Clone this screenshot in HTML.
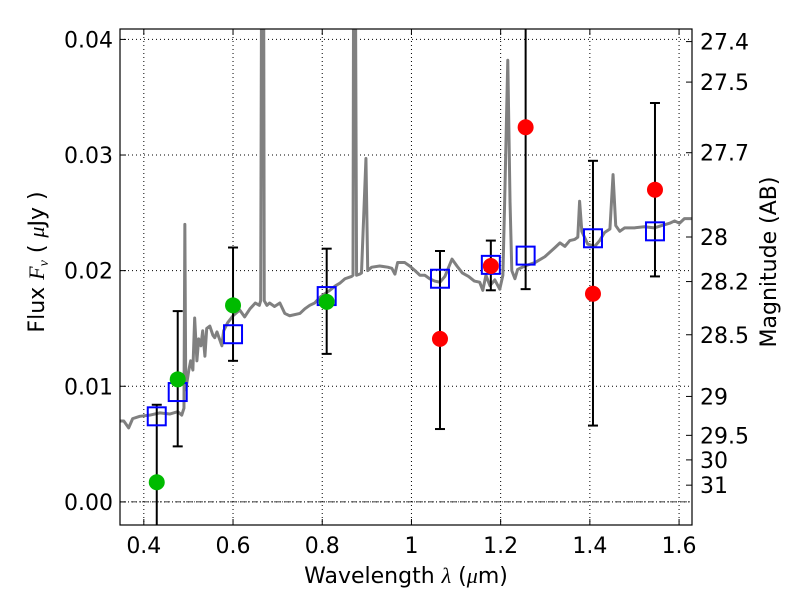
<!DOCTYPE html>
<html><head><meta charset="utf-8"><style>
body{margin:0;background:#fff}
svg text{font-family:"DejaVu Sans","Liberation Sans",sans-serif;fill:#000}
</style></head><body>
<svg id="chart" width="800" height="600" viewBox="0 0 800 600" xmlns="http://www.w3.org/2000/svg"></svg>
<script>
const specLam=[0.346,0.355,0.366,0.375,0.391,0.413,0.436,0.458,0.476,0.485,0.490,0.492,0.494,0.501,0.505,0.510,0.514,0.519,0.523,0.528,0.532,0.537,0.541,0.548,0.555,0.559,0.564,0.575,0.579,0.588,0.600,0.615,0.626,0.638,0.650,0.659,0.662,0.665,0.668,0.670,0.676,0.682,0.693,0.705,0.716,0.727,0.750,0.761,0.772,0.783,0.795,0.806,0.817,0.830,0.839,0.851,0.866,0.869,0.871,0.873,0.877,0.884,0.888,0.898,0.902,0.911,0.929,0.947,0.956,0.963,0.969,0.985,0.996,1.008,1.019,1.030,1.041,1.052,1.064,1.075,1.091,1.102,1.114,1.128,1.141,1.153,1.160,1.167,1.176,1.187,1.198,1.205,1.209,1.216,1.221,1.225,1.232,1.238,1.254,1.277,1.299,1.322,1.333,1.344,1.355,1.366,1.373,1.377,1.382,1.395,1.411,1.422,1.433,1.445,1.452,1.458,1.467,1.478,1.500,1.522,1.545,1.561,1.579,1.590,1.601,1.612,1.628];
const specFlux=[0.0070,0.0070,0.0064,0.0072,0.0074,0.0075,0.0077,0.0076,0.0078,0.0075,0.0081,0.0240,0.0097,0.0114,0.0122,0.0114,0.0159,0.0122,0.0141,0.0135,0.0148,0.0126,0.0150,0.0152,0.0144,0.0142,0.0147,0.0135,0.0148,0.0155,0.0161,0.0166,0.0160,0.0167,0.0172,0.0170,0.0174,0.0600,0.0600,0.0174,0.0170,0.0172,0.0169,0.0172,0.0163,0.0161,0.0163,0.0167,0.0170,0.0172,0.0177,0.0180,0.0183,0.0187,0.0189,0.0193,0.0195,0.0196,0.0600,0.0600,0.0196,0.0197,0.0198,0.0297,0.0200,0.0203,0.0204,0.0203,0.0202,0.0197,0.0207,0.0207,0.0204,0.0200,0.0196,0.0196,0.0193,0.0191,0.0190,0.0195,0.0210,0.0204,0.0198,0.0195,0.0191,0.0190,0.0183,0.0196,0.0187,0.0192,0.0184,0.0196,0.0260,0.0382,0.0260,0.0200,0.0193,0.0201,0.0204,0.0207,0.0212,0.0220,0.0224,0.0221,0.0226,0.0227,0.0229,0.0260,0.0234,0.0223,0.0221,0.0226,0.0233,0.0236,0.0283,0.0239,0.0234,0.0237,0.0237,0.0238,0.0237,0.0239,0.0241,0.0243,0.0241,0.0245,0.0245];
const greenLam=[0.429,0.476,0.600,0.810];
const greenFlux=[0.0017,0.0106,0.0170,0.0173];
const greenHi=[0.0084,0.0165,0.0220,0.0219];
const greenLo=[-0.005,0.0048,0.0122,0.0128];
const redLam=[1.064,1.178,1.256,1.407,1.546];
const redFlux=[0.0141,0.0204,0.0324,0.0180,0.0270];
const redHi=[0.0217,0.0226,0.047,0.0295,0.0345];
const redLo=[0.0063,0.0183,0.0184,0.0066,0.0195];
const modelLam=[0.429,0.476,0.600,0.810,1.064,1.178,1.256,1.407,1.546];
const modelFlux=[0.0074,0.0095,0.0145,0.0178,0.0193,0.0205,0.0213,0.0228,0.0234];
const xTicks=[0.4,0.6,0.8,1.0,1.2,1.4,1.6];
const xTickLabels=["0.4","0.6","0.8","1","1.2","1.4","1.6"];
const yTicks=[0,0.01,0.02,0.03,0.04];
const yTickLabels=["0.00","0.01","0.02","0.03","0.04"];
const magTicks=[27.4,27.5,27.7,28,28.2,28.5,29,29.5,30,31];

const L=120,R=692,T=29,B=525,XMIN=0.3466,XMAX=1.629,YMIN=-0.002,YMAX=0.0409;
const sx=v=>L+(v-XMIN)/(XMAX-XMIN)*(R-L);
const sy=v=>B-(v-YMIN)/(YMAX-YMIN)*(B-T);
const NS="http://www.w3.org/2000/svg";
const svg=document.getElementById('chart');
function mk(tag,at,parent){const e=document.createElementNS(NS,tag);for(const k in at)e.setAttribute(k,at[k]);(parent||svg).appendChild(e);return e;}
const defs=mk('defs',{});const cp=mk('clipPath',{id:'clip'},defs);mk('rect',{x:L,y:T,width:R-L,height:B-T},cp);

xTicks.forEach((v,i)=>{
  const g=mk('line',{x1:sx(v),x2:sx(v),y1:T,y2:B,stroke:'#000','stroke-width':1,'stroke-dasharray':'1,3'});
  
  
  mk('line',{x1:sx(v),x2:sx(v),y1:B,y2:B-6,stroke:'#000'});
  mk('line',{x1:sx(v),x2:sx(v),y1:T,y2:T+6,stroke:'#000'});
  const t=mk('text',{x:sx(v),y:B+28,'text-anchor':'middle','font-size':22});t.textContent=xTickLabels[i];
  
  
});
yTicks.forEach((v,i)=>{
  const g=mk('line',{x1:L,x2:R,y1:sy(v),y2:sy(v),stroke:'#000','stroke-width':1,'stroke-dasharray':'1,3'});
  
  
  mk('line',{x1:L,x2:L+6,y1:sy(v),y2:sy(v),stroke:'#000'});
  const t=mk('text',{x:L-7,y:sy(v)+8,'text-anchor':'end','font-size':22});t.textContent=yTickLabels[i];
  
  
});
const z=mk('line',{x1:L,x2:R,y1:sy(0),y2:sy(0),stroke:'#000','stroke-width':0.8,'stroke-dasharray':'6,2,1,2'});



magTicks.forEach(m=>{
  const f=Math.pow(10,(23.9-m)/2.5);const y=sy(f);
  mk('line',{x1:R,x2:R-6,y1:y,y2:y,stroke:'#000'});
  const t=mk('text',{x:R+8,y:y+8,'font-size':22});t.textContent=String(m);
  
  
});

const cg=mk('g',{'clip-path':'url(#clip)'});
const sp=mk('polyline',{points:specLam.map((l,i)=>sx(l)+','+sy(specFlux[i])).join(' '),fill:'none',stroke:'#808080','stroke-width':3,'stroke-linejoin':'round'},cg);


function errs(lam,hi,lo){lam.forEach((l,i)=>{const x=sx(l);
  const e=mk('line',{x1:x,x2:x,y1:sy(hi[i]),y2:sy(lo[i]),stroke:'#000','stroke-width':2},cg);
  
  
  mk('line',{x1:x-5,x2:x+5,y1:sy(hi[i]),y2:sy(hi[i]),stroke:'#000','stroke-width':2},cg);
  mk('line',{x1:x-5,x2:x+5,y1:sy(lo[i]),y2:sy(lo[i]),stroke:'#000','stroke-width':2},cg);});}
errs(greenLam,greenHi,greenLo);errs(redLam,redHi,redLo);
modelLam.forEach((l,i)=>{
  const r=mk('rect',{x:sx(l)-9,y:sy(modelFlux[i])-9,width:18,height:18,fill:'none',stroke:'#0000ff','stroke-width':2},cg);
  
  
});
greenLam.forEach((l,i)=>{
  const c=mk('circle',{cx:sx(l),cy:sy(greenFlux[i]),r:8,fill:'#00bb00'},cg);
  
  
});
redLam.forEach((l,i)=>{
  const c=mk('circle',{cx:sx(l),cy:sy(redFlux[i]),r:8,fill:'#ff0000'},cg);
  
  
});
const fr=mk('rect',{x:L,y:T,width:R-L,height:B-T,fill:'none',stroke:'#000','stroke-width':1.2});


const xl=mk('text',{x:406,y:583,'text-anchor':'middle','font-size':22});xl.innerHTML='Wavelength  <tspan font-style="italic" font-family="Liberation Serif">λ</tspan> (<tspan font-style="italic" font-family="Liberation Serif">μ</tspan>m)';


const yl=mk('text',{x:44,y:262,'text-anchor':'middle','font-size':22,transform:'rotate(-90 44 262)'});yl.innerHTML='Flux  <tspan font-style="italic" font-family="Liberation Serif">F</tspan><tspan font-style="italic" font-size="14" dy="4" font-family="Liberation Serif">ν</tspan><tspan dy="-4">  ( </tspan><tspan font-style="italic" font-family="Liberation Serif">μ</tspan>Jy )';


const ml=mk('text',{x:776,y:262,'text-anchor':'middle','font-size':22,transform:'rotate(-90 776 262)'});ml.textContent='Magnitude (AB)';


</script>
</body></html>
